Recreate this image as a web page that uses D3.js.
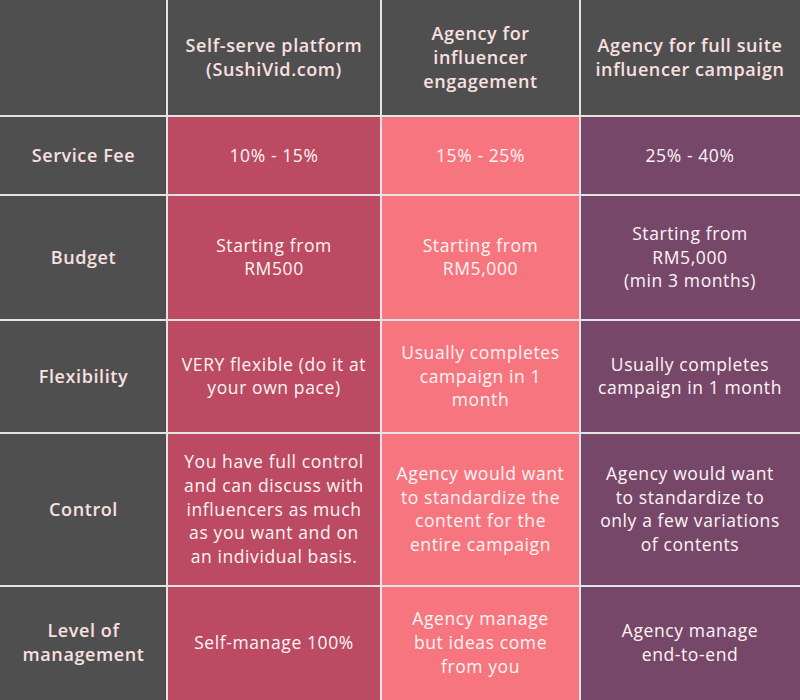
<!DOCTYPE html>
<html><head><meta charset="utf-8">
<script src="https://cdn.jsdelivr.net/npm/d3@7"></script>
<style>html,body{margin:0;padding:0;background:#fff;}svg{display:block;}</style>
</head><body>
<script>
// Data
const columns = [
  "",
  "Self-serve platform\n(SushiVid.com)",
  "Agency for\ninfluencer\nengagement",
  "Agency for full suite\ninfluencer campaign"
];
const rowLabels = ["Service Fee", "Budget", "Flexibility", "Control", "Level of\nmanagement"];
const selfServe = [
  "10% - 15%",
  "Starting from\nRM500",
  "VERY flexible (do it at\nyour own pace)",
  "You have full control\nand can discuss with\ninfluencers as much\nas you want and on\nan individual basis.",
  "Self-manage 100%"
];
const agencyEngagement = [
  "15% - 25%",
  "Starting from\nRM5,000",
  "Usually completes\ncampaign in 1\nmonth",
  "Agency would want\nto standardize the\ncontent for the\nentire campaign",
  "Agency manage\nbut ideas come\nfrom you"
];
const agencyFull = [
  "25% - 40%",
  "Starting from\nRM5,000\n(min 3 months)",
  "Usually completes\ncampaign in 1 month",
  "Agency would want\nto standardize to\nonly a few variations\nof contents",
  "Agency manage\nend-to-end"
];

// Layout
const W = 800, H = 700;
const colEdges = [0, 167, 381, 580, 800];
const rowEdges = [0, 116, 195, 320, 433, 586, 700];
const colFill = ["#4f4f4f", "#bb4a62", "#f7757f", "#77476a"];
const lineH = 23.6;

const svg = d3.select("body").append("svg").attr("width", W).attr("height", H);
svg.append("rect").attr("width", W).attr("height", H).attr("fill", "#4f4f4f");

const x = i => colEdges[i];
const y = j => rowEdges[j];

const bodyCols = [selfServe, agencyEngagement, agencyFull];
const cells = [];
columns.forEach((c, i) => cells.push({col: i, row: 0, text: c, header: true}));
rowLabels.forEach((r, j) => {
  cells.push({col: 0, row: j + 1, text: r, header: true});
  bodyCols.forEach((arr, i) => cells.push({col: i + 1, row: j + 1, text: arr[j], header: false}));
});

const g = svg.selectAll("g.cell").data(cells).join("g").attr("class", "cell");
g.append("rect")
  .attr("x", d => x(d.col)).attr("y", d => y(d.row))
  .attr("width", d => x(d.col + 1) - x(d.col))
  .attr("height", d => y(d.row + 1) - y(d.row))
  .attr("fill", d => d.row === 0 || d.col === 0 ? "#4f4f4f" : colFill[d.col]);

g.each(function(d) {
  const lines = d.text ? d.text.split("\n") : [];
  const cx = (x(d.col) + x(d.col + 1)) / 2;
  const cy = (y(d.row) + y(d.row + 1)) / 2;
  const t = d3.select(this).append("text")
    .attr("text-anchor", "middle")
    .attr("font-family", "'Open Sans', 'Noto Sans', sans-serif")
    .attr("font-weight", d.header ? 600 : 400)
    .attr("font-size", d.header ? 18 : 17.5)
    .attr("letter-spacing", d.header ? 0.6 : 0.6)
    .attr("fill", d.header ? "#fbe0e0" : "#fff5f5");
  lines.forEach((ln, k) => {
    t.append("tspan").attr("x", cx)
      .attr("y", cy + (k - (lines.length - 1) / 2) * lineH + 6)
      .text(ln);
  });
});

// grid lines
svg.selectAll("line.v").data(colEdges.slice(1, -1)).join("line")
  .attr("x1", d => d).attr("x2", d => d).attr("y1", 0).attr("y2", H)
  .attr("stroke", "#e4e4e4").attr("stroke-width", 2);
svg.selectAll("line.h").data(rowEdges.slice(1, -1)).join("line")
  .attr("y1", d => d).attr("y2", d => d).attr("x1", 0).attr("x2", W)
  .attr("stroke", "#e4e4e4").attr("stroke-width", 2);
</script>
</body></html>
